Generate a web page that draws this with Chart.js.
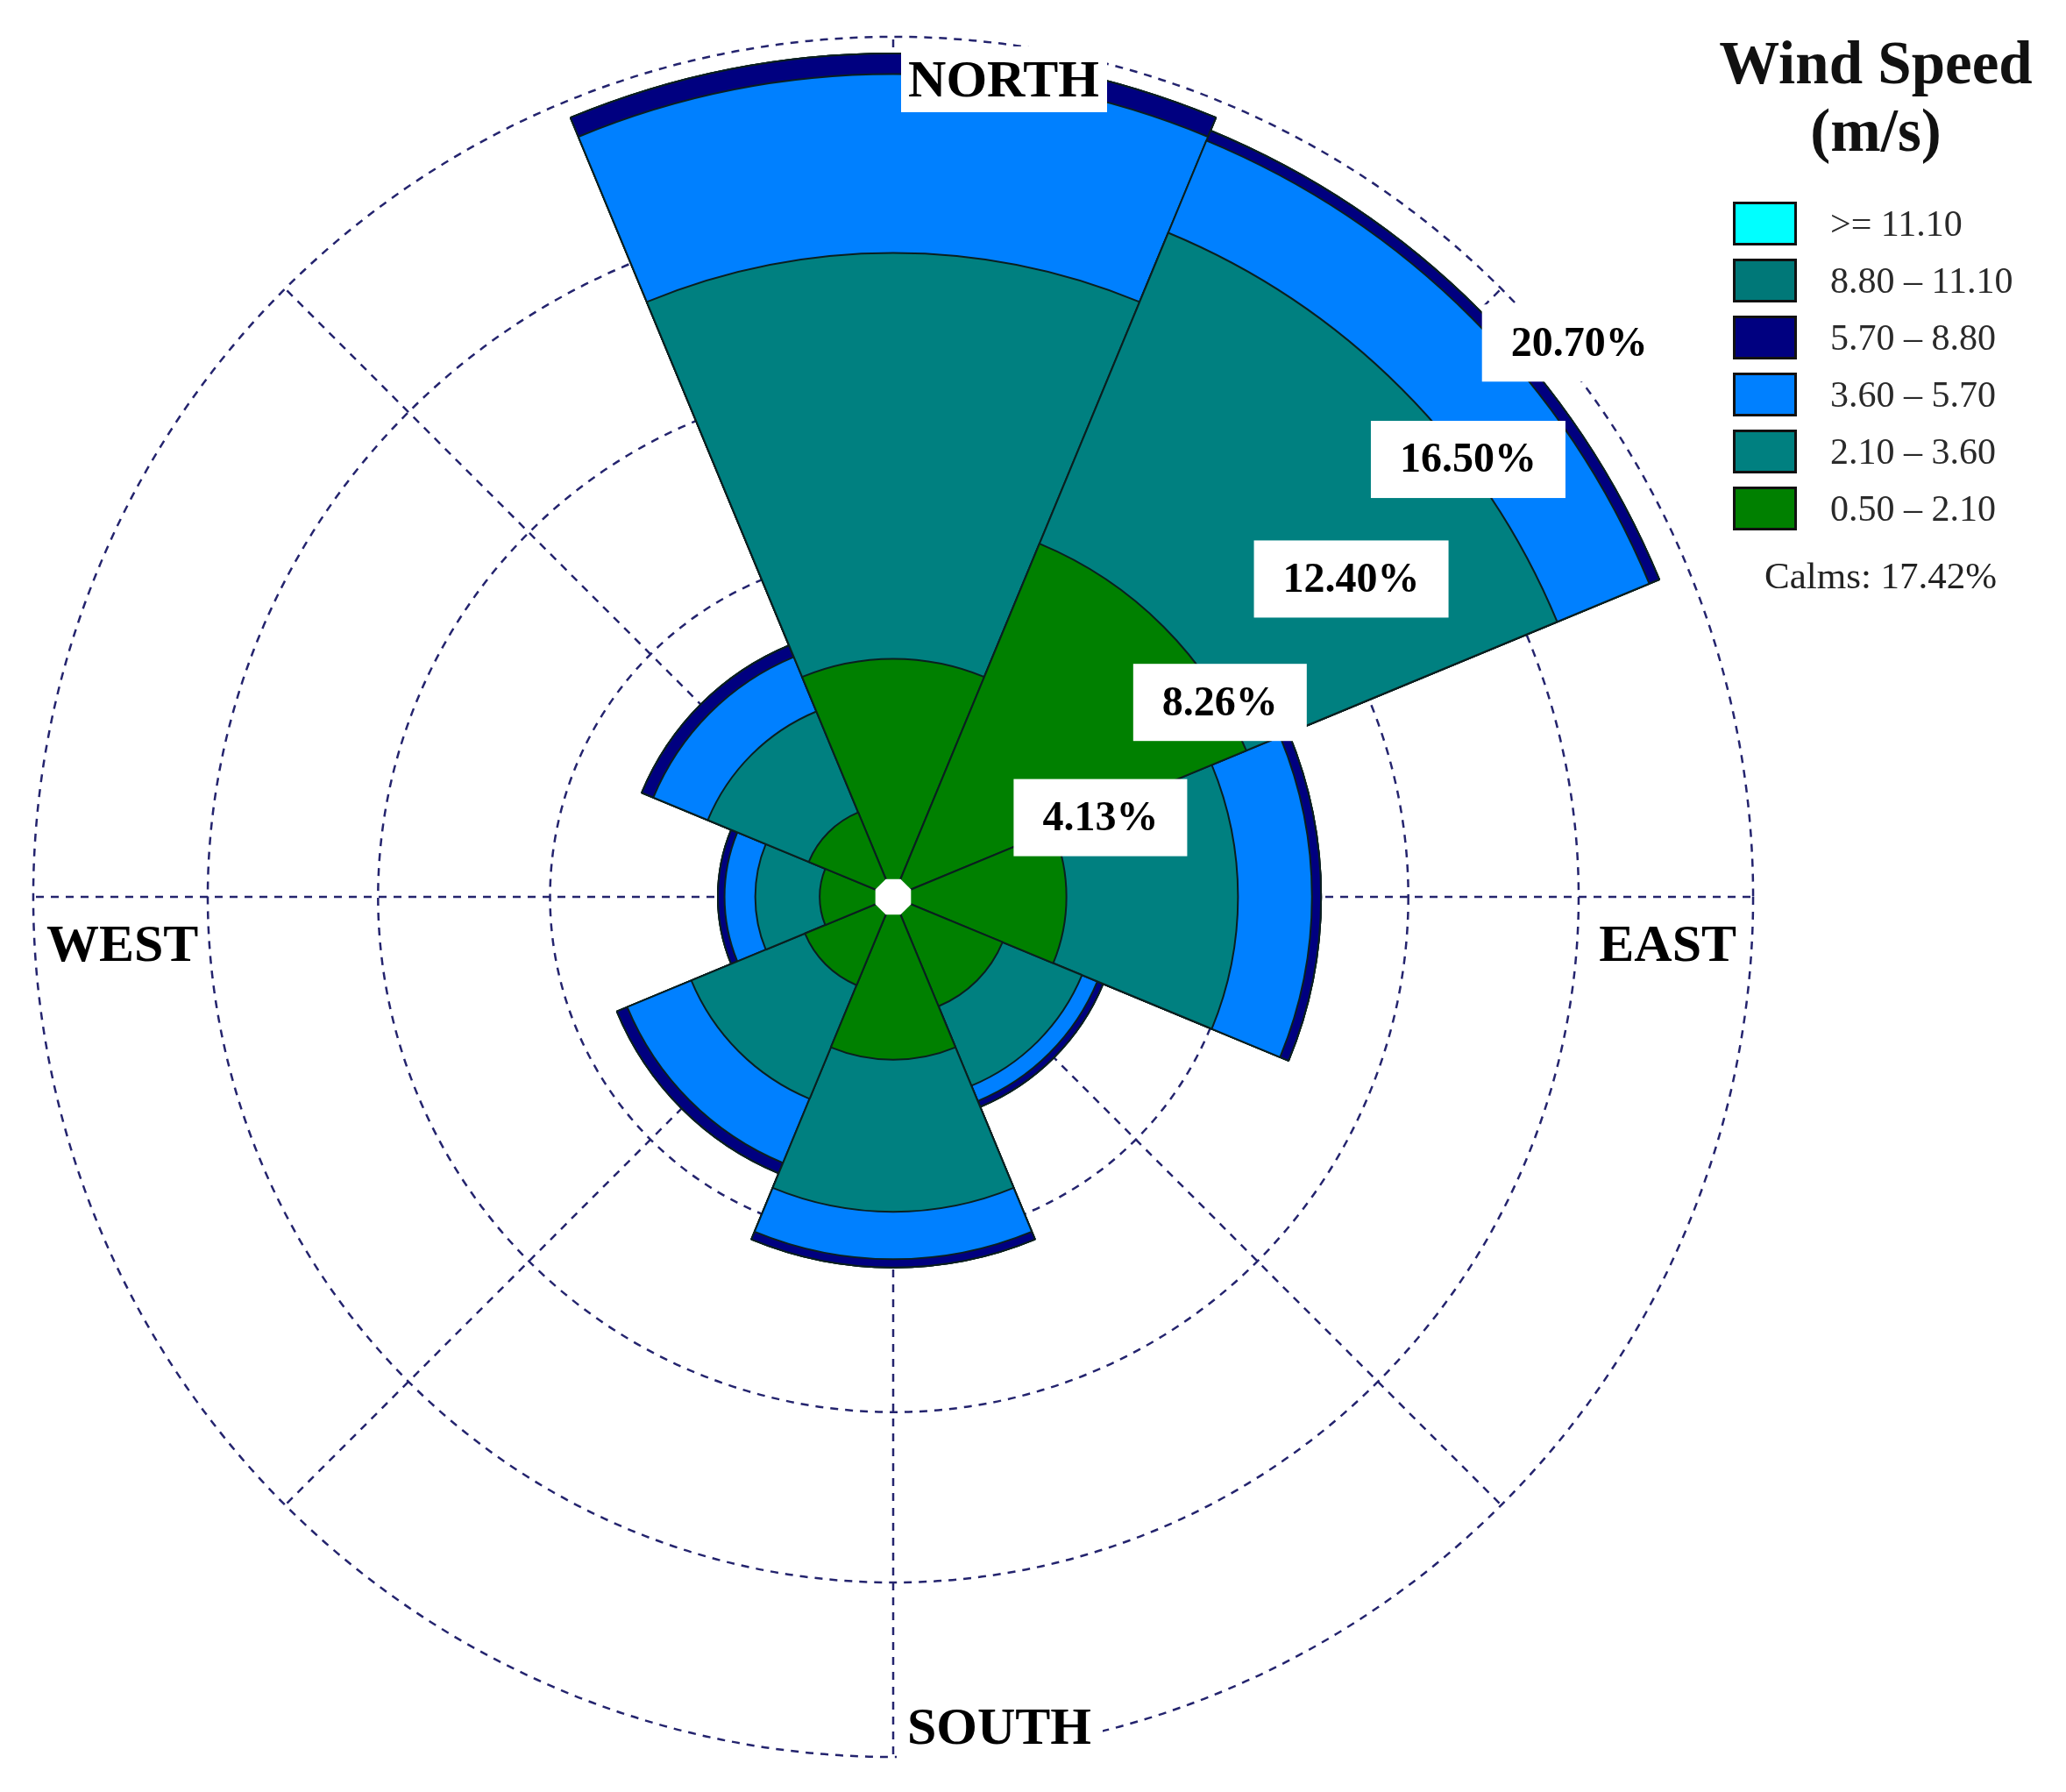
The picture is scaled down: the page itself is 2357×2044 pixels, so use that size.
<!DOCTYPE html>
<html>
<head>
<meta charset="utf-8">
<script src="https://cdn.jsdelivr.net/npm/chart.js@4/dist/chart.umd.min.js"></script>
<style>
  html, body { margin: 0; padding: 0; background: #fff; }
  body { width: 2357px; height: 2044px; position: relative; overflow: hidden; font-family: "Liberation Serif", "DejaVu Serif", serif; }
  #wrap { position: absolute; left: 28px; top: 32px; width: 1982px; height: 1982px; }
  #legTitle { position: absolute; left: 1940px; top: 34px; width: 400px; text-align: center; font-weight: bold; font-size: 69px; line-height: 77px; color: #111; }
  .row { position: absolute; left: 1977px; height: 50px; }
  .sw { position: absolute; left: 0; top: 0; width: 73px; height: 50px; box-sizing: border-box; border: 3px solid #111; }
  .lt { position: absolute; left: 111px; top: 0; height: 50px; line-height: 50px; font-size: 42px; color: #2a2a2a; white-space: nowrap; }
  #calms { position: absolute; left: 2013px; top: 630px; font-size: 43px; line-height: 54px; color: #222; white-space: nowrap; }
</style>
</head>
<body>
<div id="wrap"><canvas id="c"></canvas></div>
<div id="legTitle">Wind Speed<br>(m/s)</div>
<div id="legend"></div>
<div id="calms"></div>
<script>
// ---- data (percent of time, per direction, per speed class) ----
const directions = ['N', 'NE', 'E', 'SE', 'S', 'SW', 'W', 'NW'];
const speed05_21  = [5.73, 9.20, 4.17, 2.85, 3.92, 2.30, 1.77, 2.20];
const speed21_36  = [9.77, 8.10, 4.13, 2.07, 3.66, 2.96, 1.55, 2.63];
const speed36_57  = [4.30, 2.40, 1.78, 0.40, 1.14, 1.67, 0.74, 1.42];
const speed57_88  = [0.50, 0.26, 0.22, 0.15, 0.20, 0.27, 0.16, 0.30];
const speed88_111 = [0, 0, 0, 0, 0, 0, 0, 0];
const speed111    = [0, 0, 0, 0, 0, 0, 0, 0];
const speedClasses = ['0.50 \u2013 2.10', '2.10 \u2013 3.60', '3.60 \u2013 5.70', '5.70 \u2013 8.80', '8.80 \u2013 11.10', '>= 11.10'];
const ringValues = [4.13, 8.26, 12.40, 16.50, 20.70];
const ringLabels = ['4.13%', '8.26%', '12.40%', '16.50%', '20.70%'];
const compassLabels = ['NORTH', 'EAST', 'SOUTH', 'WEST'];
const calmsText = 'Calms: 17.42%';

// ---- styles ----
const classColors = ['#008000', '#008080', '#0080FF', '#000080', '#007878', '#00FFFF'];
const gridColor = '#24246e';
const ringLabelOffsets = [[98, 48], [96, 55], [107, 53], [103, 54], [89, 62]];

// cumulative stacks (outermost drawn first, innermost on top)
const bands = [speed05_21, speed21_36, speed36_57, speed57_88, speed88_111, speed111];
const cumulative = [];
let running = directions.map(() => 0);
bands.forEach(b => { running = running.map((v, i) => +(v + b[i]).toFixed(3)); cumulative.push(running.slice()); });

const datasets = cumulative.map((d, k) => ({
  label: speedClasses[k],
  data: d,
  backgroundColor: classColors[k],
  borderColor: '#0a1f1f',
  borderWidth: 2
}));

// legend (HTML)
const legend = document.getElementById('legend');
for (let k = speedClasses.length - 1, row = 0; k >= 0; k--, row++) {
  const r = document.createElement('div');
  r.className = 'row';
  r.style.top = (230 + row * 65) + 'px';
  r.innerHTML = '<div class="sw" style="background:' + classColors[k] + '"></div><div class="lt"></div>';
  r.querySelector('.lt').textContent = speedClasses[k];
  legend.appendChild(r);
}
document.getElementById('calms').textContent = calmsText;

const angleLinesPlugin = {
  id: 'angleLines8',
  beforeDatasetsDraw(chart) {
    const s = chart.scales.r, ctx = chart.ctx;
    const R = s.getDistanceFromCenterForValue(ringValues[ringValues.length - 1]);
    ctx.save();
    ctx.strokeStyle = gridColor;
    ctx.lineWidth = 2.5;
    ctx.setLineDash([9, 8]);
    for (let i = 0; i < directions.length; i++) {
      const p = s.getPointPosition(i, R, Math.PI / directions.length);
      ctx.beginPath();
      ctx.moveTo(s.xCenter, s.yCenter);
      ctx.lineTo(p.x, p.y);
      ctx.stroke();
    }
    ctx.restore();
  }
};

const overlayPlugin = {
  id: 'overlay',
  afterDatasetsDraw(chart) {
    const s = chart.scales.r, ctx = chart.ctx;
    const cx = s.xCenter, cy = s.yCenter;
    const R = s.getDistanceFromCenterForValue(ringValues[ringValues.length - 1]);
    ctx.save();
    // center hole
    ctx.fillStyle = '#fff';
    ctx.beginPath();
    for (let k = 0; k < 8; k++) {
      const a = Math.PI / 8 + k * Math.PI / 4;
      const x = cx + 22 * Math.cos(a), y = cy + 22 * Math.sin(a);
      if (k === 0) ctx.moveTo(x, y); else ctx.lineTo(x, y);
    }
    ctx.closePath();
    ctx.fill();

    // ring labels
    ctx.font = 'bold 48px "Liberation Serif", serif';
    ctx.textBaseline = 'middle';
    ctx.textAlign = 'center';
    ringValues.forEach((v, i) => {
      const r = s.getDistanceFromCenterForValue(v);
      const x = cx + r * Math.SQRT1_2 + ringLabelOffsets[i][0];
      const y = cy - r * Math.SQRT1_2 + ringLabelOffsets[i][1];
      const w = ctx.measureText(ringLabels[i]).width + 66;
      ctx.fillStyle = '#fff';
      ctx.fillRect(x - w / 2, y - 44, w, 88);
      ctx.fillStyle = '#000';
      ctx.fillText(ringLabels[i], x, y + 2);
    });

    // compass labels
    ctx.font = 'bold 60px "Liberation Serif", serif';
    // NORTH
    ctx.fillStyle = '#fff';
    ctx.fillRect(cx + 9, cy - R + 11, 235, 75);
    ctx.fillStyle = '#000';
    ctx.textAlign = 'center';
    ctx.fillText(compassLabels[0], cx + 126, cy - R + 53);
    // SOUTH
    ctx.fillStyle = '#fff';
    ctx.fillRect(cx + 4, cy + R - 70, 235, 75);
    ctx.fillStyle = '#000';
    ctx.fillText(compassLabels[2], cx + 121, cy + R - 31);
    // EAST
    ctx.textAlign = 'right';
    ctx.fillText(compassLabels[1], cx + R - 19, cy + 57);
    // WEST
    ctx.textAlign = 'left';
    ctx.fillText(compassLabels[3], cx - R + 15, cy + 57);
    ctx.restore();
  }
};

new Chart(document.getElementById('c'), {
  type: 'polarArea',
  data: { labels: directions, datasets },
  options: {
    responsive: true,
    maintainAspectRatio: false,
    animation: false,
    layout: { padding: 0 },
    plugins: { legend: { display: false }, tooltip: { enabled: false } },
    scales: {
      r: {
        min: 0,
        max: 20.91,
        startAngle: -22.5,
        ticks: { display: false },
        afterBuildTicks: (scale) => { scale.ticks = [0].concat(ringValues).map(v => ({ value: v })); },
        grid: { display: true, circular: true, color: gridColor, lineWidth: 2.5 },
        border: { dash: [9, 8] },
        angleLines: { display: false },
        pointLabels: { display: false }
      }
    }
  },
  plugins: [angleLinesPlugin, overlayPlugin]
});
</script>
</body>
</html>
